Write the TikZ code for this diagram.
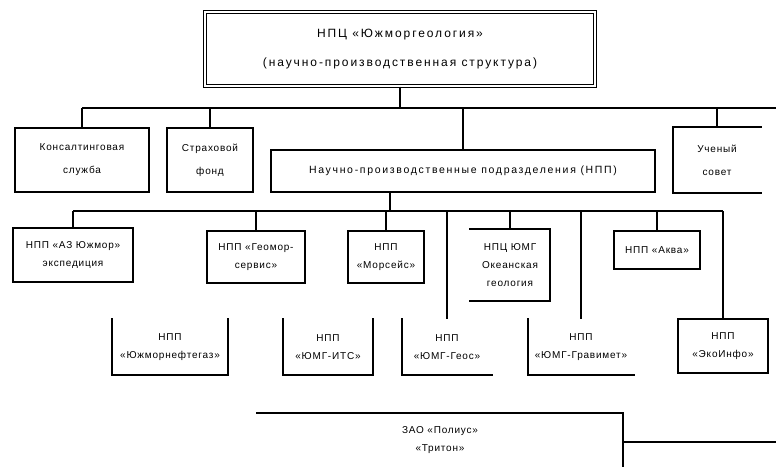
\documentclass[tikz,border=0pt]{standalone}
\usepackage{fontspec}
\setmainfont{Liberation Sans}
\newfontfamily\hqfont[LetterSpace=16]{Liberation Sans}
\newfontfamily\unitfont[LetterSpace=8]{Liberation Sans}
\tikzset{
unit/.style 2 args={
  draw, rectangle, inner sep=0pt, align=center,
  minimum width=#1, minimum height=#2,
  font=\unitfont\fontsize{10}{18}\selectfont
  },
hq/.style={
  unit={390pt}{74pt}, double, double distance=2.2pt, line width=1pt,
  font=\hqfont\fontsize{12}{29}\selectfont
  },
wide/.style={
  font=\unitfont\fontsize{10}{23}\selectfont
  },
side/.style 2 args={
  append after command={
    (\tikzlastnode.#1) edge[line cap=rect] (\tikzlastnode.#2)
  }
  },
open top/.style={
  draw=none,
  side={north west}{south west},
  side={south west}{south east},
  side={south east}{north east}
  },
open right/.style={
  draw=none,
  side={north east}{north west},
  side={north west}{south west},
  side={south west}{south east}
  },
open left/.style={
  draw=none,
  side={north west}{north east},
  side={north east}{south east},
  side={south east}{south west}
  },
corner sw/.style={
  draw=none,
  side={north west}{south west},
  side={south west}{south east}
  },
corner ne/.style={
  draw=none,
  side={north west}{north east},
  side={north east}{south east}
  }
}

\begin{document}
\begin{tikzpicture}[x=1pt, y=-1pt, line width=1.8pt]
\useasboundingbox (0,0) rectangle (776,466);

% head

\node[hq](HQ) at (400,49)
{НПЦ «Южморгеология»\\(научно-производственная структура)};

% level 1

\node[unit={134pt}{64pt}, wide](U1-1) at (82,160){Консалтинговая\\служба};
\node[unit={86pt}{64pt}, wide](U1-2) at (210,160){Страховой\\фонд};
\node[unit={384pt}{42pt}, font=\hqfont\fontsize{10.5}{18}\selectfont](U1-3) at (463,171)
{Научно-производственные подразделения (НПП)};
\node[unit={86pt}{64pt}, wide, open right](U1-4) at (717,160){Ученый\\совет};

\coordinate (bus1) at (400,108);
\coordinate (bus1-end) at (776,108);

\begin{scope}
\draw[](HQ.south) -- (bus1);
\draw[](bus1 -| U1-1.north) -- (bus1-end);
\draw[](bus1 -| U1-1.north) -- (U1-1.north);
\draw[](bus1 -| U1-2.north) -- (U1-2.north);
\draw[](bus1 -| U1-3.north) -- (U1-3.north);
\draw[](bus1 -| U1-4.north) -- (U1-4.north);
\end{scope}

% level 2

\node[unit={120pt}{54pt}](U2-1) at (73,255){НПП «АЗ Южмор»\\экспедиция};
\node[unit={98pt}{52pt}](U2-2) at (256,257){НПП «Геомор-\\сервис»};
\node[unit={76pt}{52pt}](U2-3) at (386,257){НПП\\«Морсейс»};
\node[unit={78pt}{70pt}, open left](U2-4) at (510,265){НПЦ ЮМГ\\Океанская\\геология};
\node[unit={86pt}{38pt}](U2-5) at (657,250){НПП «Аква»};

% level 3

\node[unit={114pt}{54pt}, open top](U3-1) at (170,347){НПП\\«Южморнефтегаз»};
\node[unit={88pt}{54pt}, open top](U3-2) at (328,347){НПП\\«ЮМГ-ИТС»};
\node[unit={88pt}{54pt}, corner sw](U3-3) at (447,347){НПП\\«ЮМГ-Геос»};
\node[unit={104pt}{54pt}, corner sw](U3-4) at (581,347){НПП\\«ЮМГ-Гравимет»};
\node[unit={90pt}{54pt}](U3-5) at (723,346){НПП\\«ЭкоИнфо»};

\coordinate (bus2) at (390,211);

\begin{scope}
\draw[](bus2 |- U1-3.south) -- (bus2);
\draw[](bus2 -| U2-1.north) -- (bus2 -| U3-5.north);
\draw[](bus2 -| U2-1.north) -- (U2-1.north);
\draw[](bus2 -| U2-2.north) -- (U2-2.north);
\draw[](bus2 -| U2-3.north) -- (U2-3.north);
\draw[](bus2 -| U2-4.north) -- (U2-4.north);
\draw[](bus2 -| U2-5.north) -- (U2-5.north);
\draw[](bus2 -| U3-3.north) -- (U3-3.north);
\draw[](bus2 -| U3-4.north) -- (U3-4.north);
\draw[](bus2 -| U3-5.north) -- (U3-5.north);
\end{scope}

% bottom

\node[unit={364pt}{52pt}, corner ne](Z) at (440,440){ЗАО «Полиус»\\«Тритон»};
\coordinate (Z-out) at (776,442);

\draw[](Z.east |- Z-out) -- (Z-out);

\end{tikzpicture}
\end{document}
